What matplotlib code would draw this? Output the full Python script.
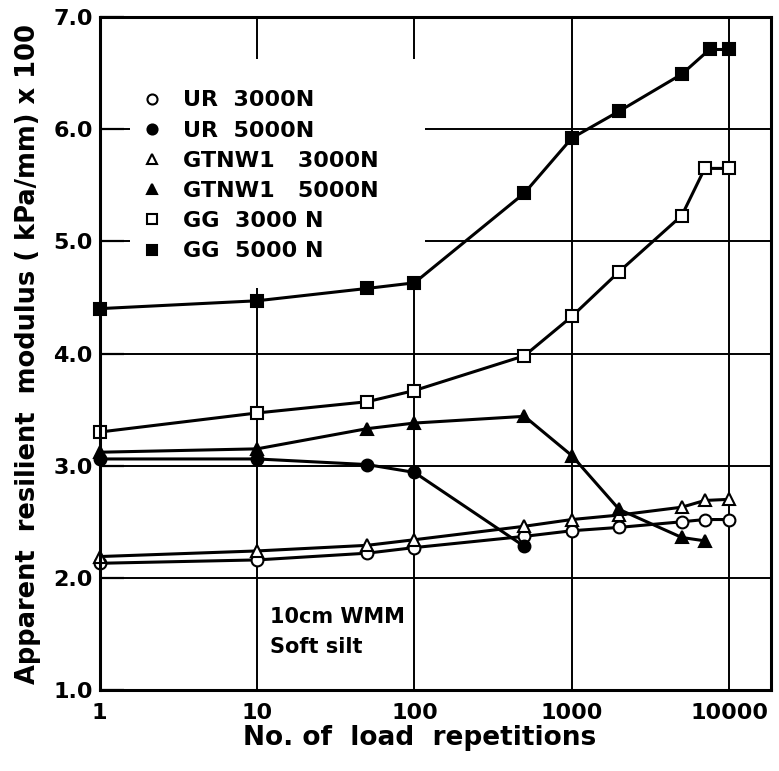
import matplotlib
matplotlib.use("Agg")
import matplotlib.pyplot as plt
from matplotlib.patches import Rectangle
from matplotlib.ticker import FixedLocator, FixedFormatter, NullLocator

# Load repetitions and apparent resilient modulus (kPa/mm x 100)
ur3_x = [1, 10, 50, 100, 500, 1000, 2000, 5000, 7000, 10000]
ur3_y = [2.13, 2.16, 2.22, 2.27, 2.37, 2.42, 2.45, 2.50, 2.52, 2.52]

ur5_x = [1, 10, 50, 100, 500]
ur5_y = [3.06, 3.06, 3.01, 2.94, 2.28]

gt3_x = [1, 10, 50, 100, 500, 1000, 2000, 5000, 7000, 10000]
gt3_y = [2.19, 2.24, 2.29, 2.34, 2.46, 2.52, 2.56, 2.63, 2.69, 2.70]

gt5_x = [1, 10, 50, 100, 500, 1000, 2000, 5000, 7000]
gt5_y = [3.12, 3.15, 3.33, 3.38, 3.44, 3.09, 2.61, 2.36, 2.33]

gg3_x = [1, 10, 50, 100, 500, 1000, 2000, 5000, 7000, 10000]
gg3_y = [3.30, 3.47, 3.57, 3.67, 3.98, 4.33, 4.73, 5.23, 5.65, 5.65]

gg5_x = [1, 10, 50, 100, 500, 1000, 2000, 5000, 7500, 10000]
gg5_y = [4.40, 4.47, 4.58, 4.63, 5.43, 5.92, 6.16, 6.49, 6.71, 6.71]

x_ticks = [1, 10, 100, 1000, 10000]
x_tick_labels = ["1", "10", "100", "1000", "10000"]
y_ticks = [1.0, 2.0, 3.0, 4.0, 5.0, 6.0, 7.0]
y_tick_labels = ["1.0", "2.0", "3.0", "4.0", "5.0", "6.0", "7.0"]

plt.rcParams["font.family"] = ["DejaVu Sans"]
plt.rcParams["font.weight"] = "bold"

fig = plt.figure(figsize=(7.79, 7.71), dpi=100)
ax = fig.add_axes([0.128, 0.105, 0.862, 0.873])

ax.set_xscale("log")
ax.set_xlim(1, 18500)
ax.set_ylim(1.0, 7.0)

ax.xaxis.set_major_locator(FixedLocator(x_ticks))
ax.xaxis.set_major_formatter(FixedFormatter(x_tick_labels))
ax.xaxis.set_minor_locator(NullLocator())
ax.yaxis.set_major_locator(FixedLocator(y_ticks))
ax.yaxis.set_major_formatter(FixedFormatter(y_tick_labels))

ax.set_axisbelow(True)
ax.grid(True, color="black", linewidth=1.4)
ax.tick_params(axis="x", length=0, pad=9, labelsize=16)
ax.tick_params(axis="y", direction="in", length=17, width=1.6, pad=5, labelsize=16)
for s in ax.spines.values():
    s.set_linewidth(2.2)
    s.set_zorder(4)

# blank panel behind the key
ax.add_patch(Rectangle((0.045, 0.597), 0.44, 0.34, transform=ax.transAxes,
                       facecolor="white", edgecolor="none", zorder=1))

common = dict(color="black", linewidth=2.2, markeredgewidth=1.5,
              clip_on=False, zorder=3)

ax.plot(ur3_x, ur3_y, marker="o", markerfacecolor="white", markersize=8.5,
        label="UR  3000N", **common)
ax.plot(ur5_x, ur5_y, marker="o", markerfacecolor="black", markersize=8.5,
        label="UR  5000N", **common)
ax.plot(gt3_x, gt3_y, marker="^", markerfacecolor="white", markersize=8.5,
        label="GTNW1   3000N", **common)
ax.plot(gt5_x, gt5_y, marker="^", markerfacecolor="black", markersize=8.5,
        label="GTNW1   5000N", **common)
ax.plot(gg3_x, gg3_y, marker="s", markerfacecolor="white", markersize=8,
        label="GG  3000 N", **common)
ax.plot(gg5_x, gg5_y, marker="s", markerfacecolor="black", markersize=8,
        label="GG  5000 N", **common)

leg = ax.legend(loc="upper left", bbox_to_anchor=(0.078, 0.891), frameon=False,
                handlelength=0, handletextpad=1.4, borderpad=0, borderaxespad=0,
                labelspacing=0.46, markerscale=0.85, prop={"size": 16, "weight": "bold"})

ax.text(12, 1.74, "10cm WMM\nSoft silt", fontsize=15, fontweight="bold",
        va="top", ha="left", linespacing=1.6, zorder=3)

ax.set_xlabel("No. of  load  repetitions", fontsize=19, fontweight="bold")
ax.xaxis.set_label_coords(0.476, -0.052)
ax.set_ylabel("Apparent  resilient  modulus ( kPa/mm) x 100", fontsize=18.5,
              fontweight="bold", labelpad=9)

fig.savefig("out.png", dpi=100)
